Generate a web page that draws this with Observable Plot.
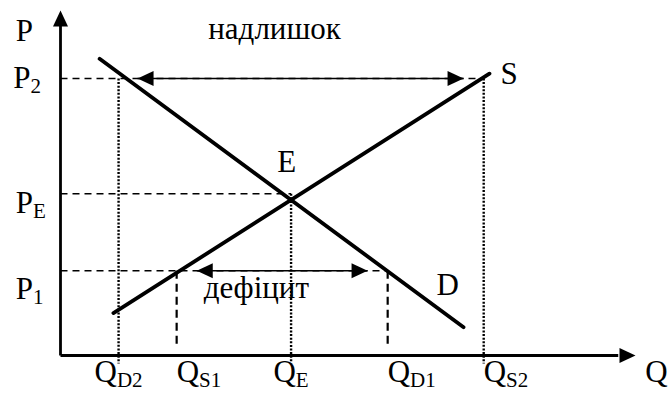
<!DOCTYPE html>
<html><head><meta charset="utf-8">
<script src="https://cdn.jsdelivr.net/npm/d3@7"></script>
<script src="https://cdn.jsdelivr.net/npm/@observablehq/plot@0.6"></script>
<style>html,body{margin:0;padding:0;background:#fff;overflow:hidden}</style>
</head><body><div id="chart"></div>
<script>
// ---- data (Q and P in arbitrary units 0..100) ----
const priceNames  = ["P_2", "P_E", "P_1"];
const priceValues = [80.3, 46.9, 24.6];
const qtyNames    = ["Q_D2", "Q_S1", "Q_E", "Q_D1", "Q_S2"];
const qtyValues   = [10.1, 20.2, 40.1, 56.9, 73.6];
const demandQ = [6.8, 70.1];
const demandP = [86.0, 8.2];
const supplyQ = [9.2, 74.6];
const supplyP = [12.3, 81.7];
const surplusQ  = [13.4, 70.1];   // arrow "надлишок" at P2
const shortageQ = [23.7, 53.4];   // arrow "дефіцит" at P1

const [P2, PE, P1] = priceValues;
const [QD2, QS1, QE, QD1, QS2] = qtyValues;

// ---- derived geometry ----
const curves = [
  ...demandQ.map((q, i) => ({curve: "D", q, p: demandP[i]})),
  ...supplyQ.map((q, i) => ({curve: "S", q, p: supplyP[i]}))
];
const hDashed = [
  {q1: 0, q2: QS2, p: P2},
  {q1: 0, q2: QE, p: PE},
  {q1: 0, q2: QD1, p: P1}
];
const vDotted = [
  {q: QD2, p1: P2, p2: -2.3},
  {q: QE, p1: PE, p2: -2.3},
  {q: QS2, p1: P2, p2: -2.3}
];
const vDashed = [
  {q: QS1, p1: P1, p2: 2.3},
  {q: QD1, p1: P1, p2: 2.3}
];
const shafts = [
  {q1: surplusQ[0], q2: surplusQ[1], p: P2},
  {q1: shortageQ[0], q2: shortageQ[1], p: P1}
];
const axes = [
  {q1: 0, p1: 0, q2: 0, p2: 96},
  {q1: 0, p1: 0, q2: 97, p2: 0}
];
const heads = [
  {q: 0, p: 100, rot: 0},
  {q: 100, p: 0, rot: 90},
  {q: surplusQ[0], p: P2, rot: -90},
  {q: surplusQ[1], p: P2, rot: 90},
  {q: shortageQ[0], p: P1, rot: -90},
  {q: shortageQ[1], p: P1, rot: 90}
];
const arrowHead = {draw(ctx) { ctx.moveTo(0, 0); ctx.lineTo(-7.5, 16); ctx.lineTo(7.5, 16); ctx.closePath(); }};

// ---- labels ----
const priceLabels = [
  {t: "P", q: -7.8, p: 91.3},
  {t: priceNames[0], q: -8.2, p: 77.4},
  {t: priceNames[1], q: -7.8, p: 41.4},
  {t: priceNames[2], q: -7.8, p: 16.5}
];
const qCentered = [true, false, true, false, false];
const qtyLabels = qtyNames.map((t, i) => ({t, q: qtyValues[i], p: -7.8, c: qCentered[i]}));
const otherLabels = [
  {t: "Q", q: 101.7, p: -7.8},
  {t: "надлишок", q: 25.7, p: 91.6},
  {t: "E", q: 37.7, p: 53.3},
  {t: "S", q: 76.5, p: 78.6},
  {t: "D", q: 65.4, p: 17.4},
  {t: "дефіцит", q: 24.9, p: 16.8}
];

const font = "'Liberation Serif', 'Times New Roman', serif";
const FS = 31;
const chart = Plot.plot({
  width: 670, height: 394, margin: 0,
  x: {domain: [0, 100], range: [60, 635], axis: null},
  y: {domain: [0, 100], range: [355, 10], axis: null},
  style: {background: "white", fontFamily: font, color: "black"},
  marks: [
    Plot.link(hDashed, {x1: "q1", x2: "q2", y1: "p", y2: "p", stroke: "black", strokeWidth: 1.5, strokeDasharray: "7,5"}),
    Plot.link(vDotted, {x1: "q", x2: "q", y1: "p1", y2: "p2", stroke: "black", strokeWidth: 2.4, strokeDasharray: "2,1.6"}),
    Plot.link(vDashed, {x1: "q", x2: "q", y1: "p1", y2: "p2", stroke: "black", strokeWidth: 2.2, strokeDasharray: "8,5"}),
    Plot.link(shafts, {x1: "q1", x2: "q2", y1: "p", y2: "p", stroke: "black", strokeWidth: 1.5}),
    Plot.link(axes, {x1: "q1", y1: "p1", x2: "q2", y2: "p2", stroke: "black", strokeWidth: 2.8}),
    Plot.line(curves, {x: "q", y: "p", z: "curve", stroke: "black", strokeWidth: 3.8}),
    Plot.dot(heads, {x: "q", y: "p", rotate: "rot", symbol: arrowHead, fill: "black", stroke: "none", r: 5}),
    Plot.text(priceLabels, {x: "q", y: "p", text: "t", textAnchor: "start", lineAnchor: "bottom", fontSize: FS, fill: "black"}),
    Plot.text(qtyLabels.filter((d) => d.c), {x: "q", y: "p", text: "t", textAnchor: "middle", lineAnchor: "bottom", fontSize: FS, fill: "black"}),
    Plot.text(qtyLabels.filter((d) => !d.c), {x: "q", y: "p", text: "t", textAnchor: "start", lineAnchor: "bottom", fontSize: FS, fill: "black"}),
    Plot.text(otherLabels, {x: "q", y: "p", text: "t", textAnchor: "start", lineAnchor: "bottom", fontSize: FS, fill: "black"})
  ]
});

// turn "X_sub" into a subscripted tspan
const NS = "http://www.w3.org/2000/svg";
chart.querySelectorAll("text").forEach((t) => {
  const s = t.textContent;
  const i = s.indexOf("_");
  if (i < 0) return;
  t.textContent = s.slice(0, i);
  const ts = document.createElementNS(NS, "tspan");
  ts.setAttribute("font-size", "21");
  ts.setAttribute("dy", "5");
  ts.textContent = s.slice(i + 1);
  t.appendChild(ts);
});
document.getElementById("chart").appendChild(chart);
</script>
</body></html>
